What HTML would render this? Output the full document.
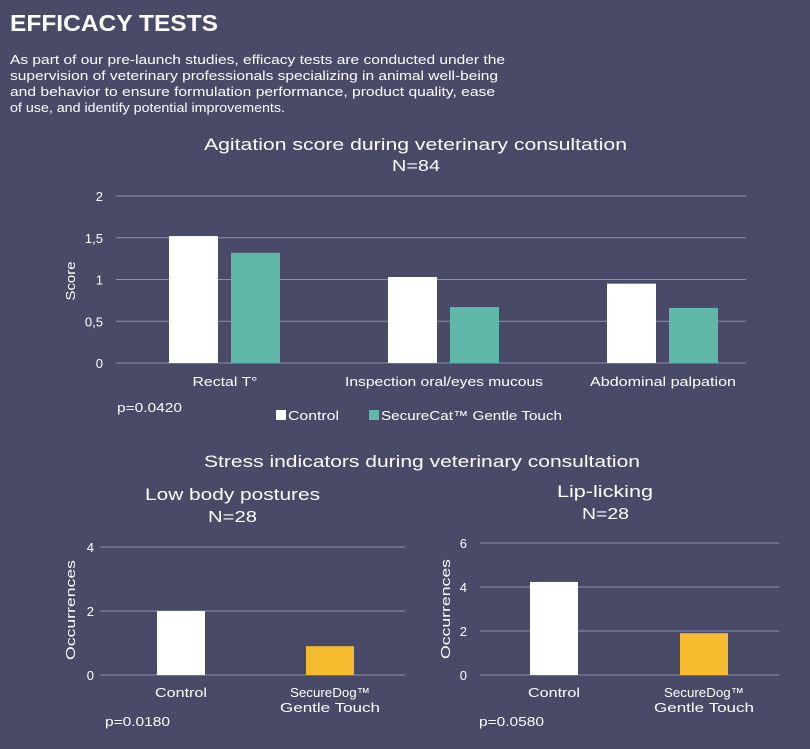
<!DOCTYPE html>
<html><head><meta charset="utf-8"><style>
html,body{margin:0;padding:0;background:#484a68;width:810px;height:749px;overflow:hidden}
svg{display:block;font-family:"Liberation Sans",sans-serif}
</style></head><body>
<svg id="s" width="810" height="749">
<text x="10" y="31" fill="#fff" font-size="23" font-weight="bold" textLength="208" lengthAdjust="spacingAndGlyphs">EFFICACY TESTS</text>
<g fill="#fff" font-size="13">
<text x="10" y="64" textLength="495" lengthAdjust="spacingAndGlyphs">As part of our pre-launch studies, efficacy tests are conducted under the</text>
<text x="10" y="80" textLength="488" lengthAdjust="spacingAndGlyphs">supervision of veterinary professionals specializing in animal well-being</text>
<text x="10" y="96" textLength="485" lengthAdjust="spacingAndGlyphs">and behavior to ensure formulation performance, product quality, ease</text>
<text x="10" y="112" textLength="275" lengthAdjust="spacingAndGlyphs">of use, and identify potential improvements.</text>
</g>
<text x="204" y="150" fill="#fff" font-size="17" textLength="423" lengthAdjust="spacingAndGlyphs">Agitation score during veterinary consultation</text>
<text x="392" y="171" fill="#fff" font-size="16" textLength="48" lengthAdjust="spacingAndGlyphs">N=84</text>
<text transform="translate(75,281) rotate(-90)" fill="#fff" font-size="13" text-anchor="middle" textLength="39" lengthAdjust="spacingAndGlyphs">Score</text>
<text x="117" y="412" fill="#fff" font-size="13" textLength="65" lengthAdjust="spacingAndGlyphs">p=0.0420</text>
<rect x="276" y="410" width="10" height="10" fill="#fff"/>
<text x="288" y="420" fill="#fff" font-size="13" textLength="51" lengthAdjust="spacingAndGlyphs">Control</text>
<rect x="369" y="410" width="10" height="10" fill="#5fb8a8"/>
<text x="381" y="420" fill="#fff" font-size="13" textLength="181" lengthAdjust="spacingAndGlyphs">SecureCat™ Gentle Touch</text>
<text x="204" y="467" fill="#fff" font-size="17" textLength="436" lengthAdjust="spacingAndGlyphs">Stress indicators during veterinary consultation</text>
<text x="145" y="500" fill="#fff" font-size="17" textLength="175" lengthAdjust="spacingAndGlyphs">Low body postures</text>
<text x="208" y="522" fill="#fff" font-size="16" textLength="49" lengthAdjust="spacingAndGlyphs">N=28</text>
<text x="557" y="497" fill="#fff" font-size="17" textLength="96" lengthAdjust="spacingAndGlyphs">Lip-licking</text>
<text x="582" y="519" fill="#fff" font-size="16" textLength="47" lengthAdjust="spacingAndGlyphs">N=28</text>
<text transform="translate(75,610) rotate(-90)" fill="#fff" font-size="13" text-anchor="middle" textLength="100" lengthAdjust="spacingAndGlyphs">Occurrences</text>
<text transform="translate(450,609) rotate(-90)" fill="#fff" font-size="13" text-anchor="middle" textLength="100" lengthAdjust="spacingAndGlyphs">Occurrences</text>
<text x="105" y="726" fill="#fff" font-size="13" textLength="65" lengthAdjust="spacingAndGlyphs">p=0.0180</text>
<text x="479" y="726" fill="#fff" font-size="13" textLength="65" lengthAdjust="spacingAndGlyphs">p=0.0580</text>
<g id="charts"></g>
</svg>
<script>
const agCats=["Rectal T°","Inspection oral/eyes mucous","Abdominal palpation"];
const agControl=[1.52,1.03,0.95];
const agSecure=[1.32,0.67,0.66];
const agTicks=[0,0.5,1,1.5,2];
const agTickLabels=["0","0,5","1","1,5","2"];
const agLabelWidths=[65,198,146];
const dogCats=[["Control"],["SecureDog™","Gentle Touch"]];
const dogLabelWidths=[[52],[80,100]];
const postureVals=[2.0,0.9];
const postureTicks=[0,2,4];
const lipVals=[4.23,1.9];
const lipTicks=[0,2,4,6];

const NS="http://www.w3.org/2000/svg";
const root=document.getElementById('charts');
function el(t,a,txt){const e=document.createElementNS(NS,t);for(const k in a)e.setAttribute(k,a[k]);if(txt!==undefined)e.textContent=txt;root.appendChild(e);return e;}

(function(){
 const y0=363,y1=196,max=2;
 const y=v=>y0-(v/max)*(y0-y1);
 const x0=115.5,step=219;
 agTicks.forEach((t,i)=>{
  const g=el('line',{x1:116,x2:746,y1:y(t),y2:y(t),stroke:'#8e90b0','stroke-width':1});
  
  
  const l=el('text',{x:103,y:y(t)+5,fill:'#fff','font-size':13,'text-anchor':'end'},agTickLabels[i]);
  
  
 });
 agCats.forEach((c,i)=>{
  const cx=x0+step*(i+0.5);
  const b1=el('rect',{x:cx-56,y:y(agControl[i]),width:49,height:y0-y(agControl[i]),fill:'#fff'});
  
  
  const b2=el('rect',{x:cx+6,y:y(agSecure[i]),width:49,height:y0-y(agSecure[i]),fill:'#5fb8a8'});
  
  
  const t=el('text',{x:cx,y:386,fill:'#fff','font-size':13,'text-anchor':'middle',textLength:agLabelWidths[i],lengthAdjust:'spacingAndGlyphs'},c);
  
  
 });
})();

function dogChart(vals,ticks,max,y0,y1,gx0,gx1,x0,step,tickX,pref){
 const y=v=>y0-(v/max)*(y0-y1);
 ticks.forEach(t=>{
  const g=el('line',{x1:gx0,x2:gx1,y1:y(t),y2:y(t),stroke:'#8e90b0','stroke-width':1});
  
  
  const l=el('text',{x:tickX,y:y(t)+5,fill:'#fff','font-size':13,'text-anchor':'end'},String(t));
  
  
 });
 vals.forEach((v,i)=>{
  const cx=x0+step*(i+0.5);
  const b=el('rect',{x:cx-24,y:y(v),width:48,height:y0-y(v),fill:i==0?'#fff':'#f4bc2e'});
  
  
  dogCats[i].forEach((ln,j)=>{
   const t=el('text',{x:cx,y:697+j*15,fill:'#fff','font-size':13,'text-anchor':'middle',textLength:dogLabelWidths[i][j],lengthAdjust:'spacingAndGlyphs'},ln);
   
   
  });
 });
}
dogChart(postureVals,postureTicks,4,675,547,100,405,106.5,149,94,'postures');
dogChart(lipVals,lipTicks,6,675,543,480,779,479,150,467,'lip');
</script>
</body></html>
